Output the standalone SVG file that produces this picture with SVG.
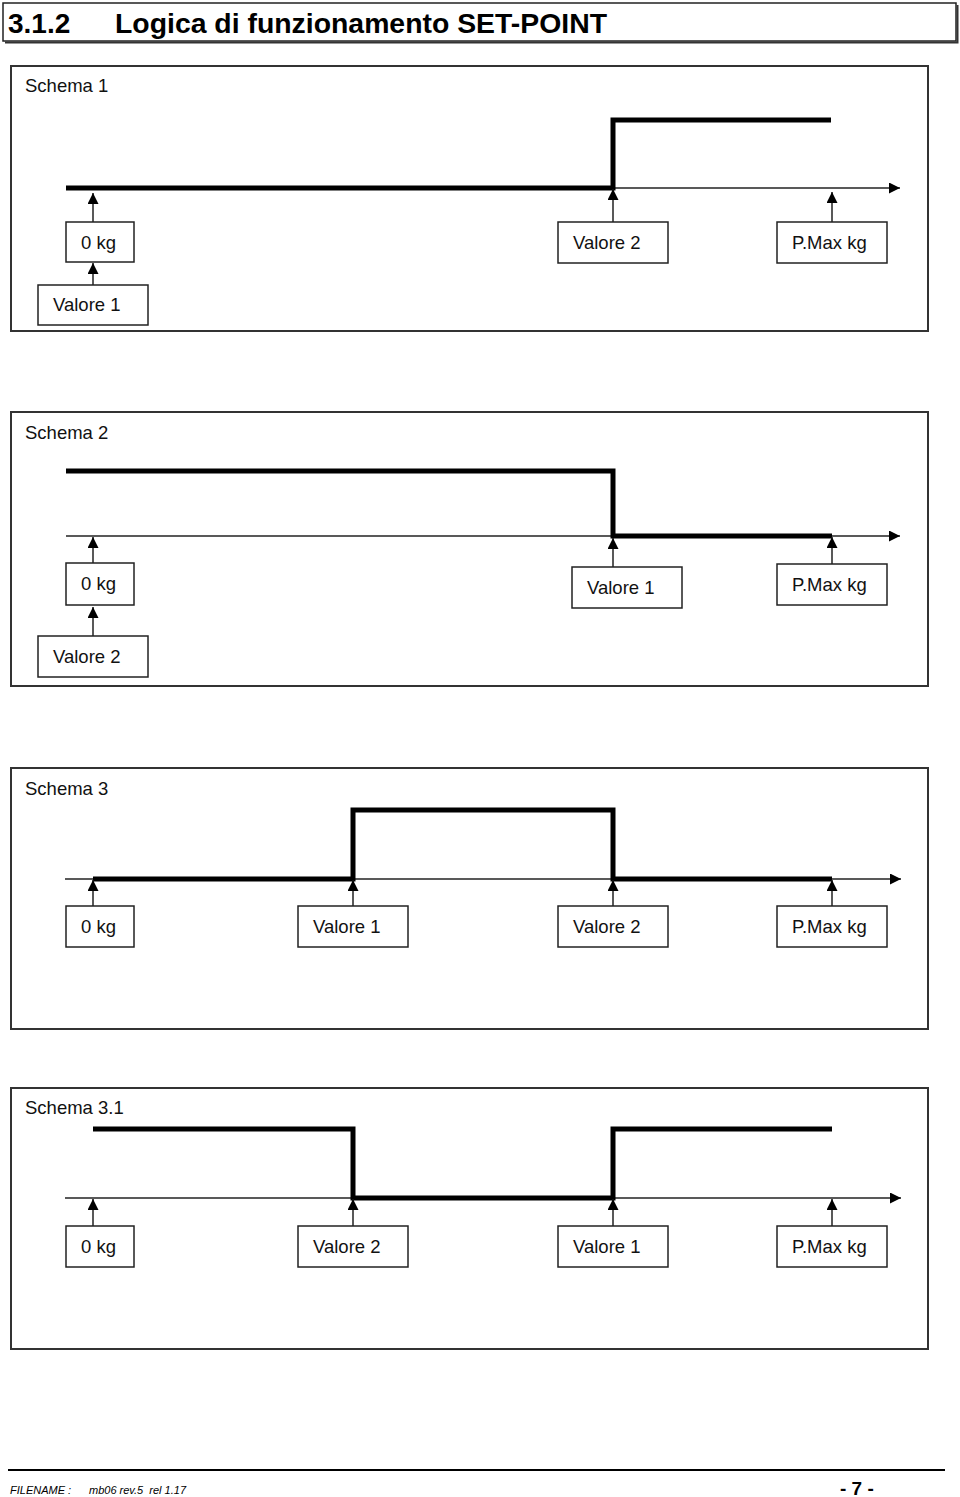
<svg xmlns="http://www.w3.org/2000/svg" width="960" height="1497" viewBox="0 0 960 1497">
<style>
.frame{fill:none;stroke:#333;stroke-width:2}
.box{fill:#fff;stroke:#222;stroke-width:1.5}
.axis{fill:none;stroke:#222;stroke-width:1.5}
.sig{fill:none;stroke:#000;stroke-width:5;stroke-linejoin:miter}
.arr{fill:none;stroke:#222;stroke-width:1.5}
.lbl{font-family:"Liberation Sans",Arial,sans-serif;font-size:18.5px;fill:#111}
.title{font-family:"Liberation Sans",Arial,sans-serif;font-size:28px;font-weight:bold;fill:#000}
</style>
<defs>
<marker id="ah" markerUnits="userSpaceOnUse" markerWidth="11" markerHeight="11" refX="11" refY="5.5" orient="auto">
<path d="M0,0 L11,5.5 L0,11 z" fill="#000"/>
</marker>
</defs>

<g id="title">
<rect x="3" y="3" width="953" height="38" fill="#fff" stroke="#222" stroke-width="1.5"/>
<path d="M5,42.5 H957.5 V5" fill="none" stroke="#333" stroke-width="2"/>
<text class="title" x="8" y="33">3.1.2</text>
<text class="title" x="115" y="33" textLength="492" lengthAdjust="spacingAndGlyphs">Logica di funzionamento SET-POINT</text>
</g>

<!-- Schema 1 -->
<g id="schema1">
<rect class="frame" x="11" y="66" width="917" height="265"/>
<text class="lbl" x="25" y="92">Schema 1</text>
</g>
<g id="s1-connectors">
<line class="axis" x1="66" y1="188" x2="900" y2="188" marker-end="url(#ah)"/>
<path class="sig" d="M66,188 H613 V120 H831"/>
<line class="arr" x1="93" y1="222" x2="93" y2="193" marker-end="url(#ah)"/>
<line class="arr" x1="613" y1="222" x2="613" y2="189" marker-end="url(#ah)"/>
<line class="arr" x1="832" y1="222" x2="832" y2="192" marker-end="url(#ah)"/>
<line class="arr" x1="93" y1="285" x2="93" y2="263" marker-end="url(#ah)"/>
</g>
<g id="s1-0kg"><rect class="box" x="66" y="222" width="68" height="40"/><text class="lbl" x="81" y="249">0 kg</text></g>
<g id="s1-valore2"><rect class="box" x="558" y="222" width="110" height="41"/><text class="lbl" x="573" y="249">Valore 2</text></g>
<g id="s1-pmax"><rect class="box" x="777" y="222" width="110" height="41"/><text class="lbl" x="792" y="249">P.Max kg</text></g>
<g id="s1-valore1"><rect class="box" x="38" y="285" width="110" height="40"/><text class="lbl" x="53" y="311">Valore 1</text></g>

<!-- Schema 2 -->
<g id="schema2">
<rect class="frame" x="11" y="412" width="917" height="274"/>
<text class="lbl" x="25" y="439">Schema 2</text>
</g>
<g id="s2-connectors">
<line class="axis" x1="66" y1="536" x2="900" y2="536" marker-end="url(#ah)"/>
<path class="sig" d="M66,471 H613 V536 H832"/>
<line class="arr" x1="93" y1="563" x2="93" y2="537" marker-end="url(#ah)"/>
<line class="arr" x1="613" y1="567" x2="613" y2="538" marker-end="url(#ah)"/>
<line class="arr" x1="832" y1="564" x2="832" y2="537" marker-end="url(#ah)"/>
<line class="arr" x1="93" y1="636" x2="93" y2="607" marker-end="url(#ah)"/>
</g>
<g id="s2-0kg"><rect class="box" x="66" y="563" width="68" height="42"/><text class="lbl" x="81" y="590">0 kg</text></g>
<g id="s2-valore1"><rect class="box" x="572" y="567" width="110" height="41"/><text class="lbl" x="587" y="594">Valore 1</text></g>
<g id="s2-pmax"><rect class="box" x="777" y="564" width="110" height="41"/><text class="lbl" x="792" y="591">P.Max kg</text></g>
<g id="s2-valore2"><rect class="box" x="38" y="636" width="110" height="41"/><text class="lbl" x="53" y="663">Valore 2</text></g>

<!-- Schema 3 -->
<g id="schema3">
<rect class="frame" x="11" y="768" width="917" height="261"/>
<text class="lbl" x="25" y="795">Schema 3</text>
</g>
<g id="s3-connectors">
<line class="axis" x1="65" y1="879" x2="901" y2="879" marker-end="url(#ah)"/>
<path class="sig" d="M93,879 H353 V810 H613 V879 H832"/>
<line class="arr" x1="93" y1="906" x2="93" y2="880" marker-end="url(#ah)"/>
<line class="arr" x1="353" y1="906" x2="353" y2="880" marker-end="url(#ah)"/>
<line class="arr" x1="613" y1="906" x2="613" y2="880" marker-end="url(#ah)"/>
<line class="arr" x1="832" y1="906" x2="832" y2="880" marker-end="url(#ah)"/>
</g>
<g id="s3-0kg"><rect class="box" x="66" y="906" width="68" height="41"/><text class="lbl" x="81" y="933">0 kg</text></g>
<g id="s3-valore1"><rect class="box" x="298" y="906" width="110" height="41"/><text class="lbl" x="313" y="933">Valore 1</text></g>
<g id="s3-valore2"><rect class="box" x="558" y="906" width="110" height="41"/><text class="lbl" x="573" y="933">Valore 2</text></g>
<g id="s3-pmax"><rect class="box" x="777" y="906" width="110" height="41"/><text class="lbl" x="792" y="933">P.Max kg</text></g>

<!-- Schema 3.1 -->
<g id="schema31">
<rect class="frame" x="11" y="1088" width="917" height="261"/>
<text class="lbl" x="25" y="1114">Schema 3.1</text>
</g>
<g id="s31-connectors">
<line class="axis" x1="65" y1="1198" x2="901" y2="1198" marker-end="url(#ah)"/>
<path class="sig" d="M93,1129 H353 V1198 H613 V1129 H832"/>
<line class="arr" x1="93" y1="1226" x2="93" y2="1199" marker-end="url(#ah)"/>
<line class="arr" x1="353" y1="1226" x2="353" y2="1199" marker-end="url(#ah)"/>
<line class="arr" x1="613" y1="1226" x2="613" y2="1199" marker-end="url(#ah)"/>
<line class="arr" x1="832" y1="1226" x2="832" y2="1199" marker-end="url(#ah)"/>
</g>
<g id="s31-0kg"><rect class="box" x="66" y="1226" width="68" height="41"/><text class="lbl" x="81" y="1253">0 kg</text></g>
<g id="s31-valore2"><rect class="box" x="298" y="1226" width="110" height="41"/><text class="lbl" x="313" y="1253">Valore 2</text></g>
<g id="s31-valore1"><rect class="box" x="558" y="1226" width="110" height="41"/><text class="lbl" x="573" y="1253">Valore 1</text></g>
<g id="s31-pmax"><rect class="box" x="777" y="1226" width="110" height="41"/><text class="lbl" x="792" y="1253">P.Max kg</text></g>

<!-- Footer -->
<g id="footer">
<line x1="8" y1="1470" x2="945" y2="1470" stroke="#000" stroke-width="2"/>
<text x="10" y="1494" font-family="'Liberation Sans',Arial,sans-serif" font-size="11" font-style="italic" fill="#000">FILENAME :</text>
<text x="89" y="1494" font-family="'Liberation Sans',Arial,sans-serif" font-size="11" font-style="italic" fill="#000" xml:space="preserve">mb06 rev.5  rel 1.17</text>
<text x="840" y="1495" font-family="'Liberation Sans',Arial,sans-serif" font-size="19" font-weight="bold" fill="#000" xml:space="preserve">- 7 -</text>
</g>
</svg>
